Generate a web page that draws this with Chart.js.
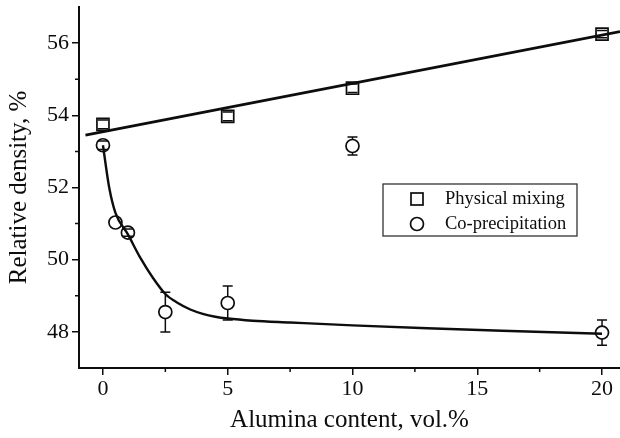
<!DOCTYPE html>
<html lang="en">
<head>
    <meta charset="UTF-8">
    <title>Relative density vs alumina content</title>
    <script src="https://cdn.jsdelivr.net/npm/chart.js"></script>
    <style>
        html, body {
            margin: 0;
            padding: 0;
            background: #fff;
            overflow: hidden;
        }
        canvas {
            display: block;
        }
    </style>
</head>
<body>
    <canvas id="densityChart" width="620" height="438"></canvas>

    <script>
        // measured points
        const mixX = [0, 5, 10, 20];
        const mixY = [53.75, 53.97, 54.75, 56.25];
        const mixErr = [0.12, 0.12, 0.12, 0.1];

        const coX = [0, 0.5, 1, 2.5, 5, 10, 20];
        const coY = [53.17, 51.03, 50.75, 48.55, 48.8, 53.15, 47.98];
        const coErr = [0.12, 0, 0.1, 0.55, 0.47, 0.25, 0.35];

        // fitted curves
        const mixFitX = [-0.7, 20.72];
        const mixFitY = [53.45, 56.32];
        const coFitX = [0, 0.25, 0.5, 1, 1.5, 2, 2.5, 3, 3.5, 4, 4.5, 5, 6, 7.5, 10, 13, 16, 20];
        const coFitY = [53.17, 52.0, 51.3, 50.7, 50.05, 49.5, 49.05, 48.8, 48.62, 48.5, 48.42, 48.37, 48.31, 48.26, 48.18, 48.1, 48.03, 47.95];

        const xMajor = [0, 5, 10, 15, 20];
        const xMinor = [2.5, 7.5, 12.5, 17.5];
        const yMajor = [48, 50, 52, 54, 56];
        const yMinor = [49, 51, 53, 55];

        const legendLabels = ['Physical mixing', 'Co-precipitation'];

        const ink = '#0d0d0d';
        const serif = "'Liberation Serif', 'DejaVu Serif', serif";

        function pts(xs, ys) {
            return xs.map((x, i) => ({x: x, y: ys[i]}));
        }

        // error bars, minor ticks and the boxed legend
        const extras = {
            id: 'extras',
            afterDatasetsDraw(chart) {
                const ctx = chart.ctx;
                const xs = chart.scales.x, ys = chart.scales.y;
                ctx.save();
                ctx.strokeStyle = ink;
                ctx.lineWidth = 1.5;
                chart.data.datasets.forEach(ds => {
                    if (!ds.errors) return;
                    const r = ds.pointRadius;
                    ds.data.forEach((p, i) => {
                        const e = ds.errors[i];
                        if (!e) return;
                        const px = xs.getPixelForValue(p.x);
                        const py = ys.getPixelForValue(p.y);
                        const top = ys.getPixelForValue(p.y + e);
                        const bot = ys.getPixelForValue(p.y - e);
                        ctx.beginPath();
                        if (py - top > r) {
                            ctx.moveTo(px, py - r); ctx.lineTo(px, top);
                            ctx.moveTo(px, bot); ctx.lineTo(px, py + r);
                        }
                        ctx.moveTo(px - 5, top); ctx.lineTo(px + 5, top);
                        ctx.moveTo(px - 5, bot); ctx.lineTo(px + 5, bot);
                        ctx.stroke();
                    });
                });

                // minor ticks
                ctx.lineWidth = 1.5;
                ctx.beginPath();
                xMinor.forEach(v => {
                    const px = xs.getPixelForValue(v);
                    ctx.moveTo(px, xs.top); ctx.lineTo(px, xs.top + 4);
                });
                yMinor.forEach(v => {
                    const py = ys.getPixelForValue(v);
                    ctx.moveTo(ys.right, py); ctx.lineTo(ys.right - 4, py);
                });
                ctx.stroke();

                // legend
                const lx = 383, ly = 184, lw = 194, lh = 52;
                ctx.lineWidth = 1.3;
                ctx.strokeStyle = '#333';
                ctx.strokeRect(lx, ly, lw, lh);
                ctx.strokeStyle = ink;
                ctx.lineWidth = 1.7;
                ctx.strokeRect(417 - 6, 199 - 6, 12, 12);
                ctx.beginPath();
                ctx.arc(417, 224, 6.5, 0, Math.PI * 2);
                ctx.stroke();
                ctx.fillStyle = ink;
                ctx.font = '18.5px ' + serif;
                ctx.textBaseline = 'middle';
                ctx.fillText(legendLabels[0], 445, 199);
                ctx.fillText(legendLabels[1], 445, 224);
                ctx.restore();
            }
        };

        const ctx = document.getElementById('densityChart').getContext('2d');
        new Chart(ctx, {
            type: 'scatter',
            data: {
                datasets: [
                    {
                        label: legendLabels[0],
                        data: pts(mixX, mixY),
                        errors: mixErr,
                        pointStyle: 'rect',
                        pointRadius: 8.5,
                        pointBorderWidth: 1.7,
                        borderColor: ink,
                        backgroundColor: 'rgba(0,0,0,0)'
                    },
                    {
                        label: legendLabels[1],
                        data: pts(coX, coY),
                        errors: coErr,
                        pointStyle: 'circle',
                        pointRadius: 6.5,
                        pointBorderWidth: 1.7,
                        borderColor: ink,
                        backgroundColor: 'rgba(0,0,0,0)'
                    },
                    {
                        label: 'mix fit',
                        data: pts(mixFitX, mixFitY),
                        showLine: true,
                        pointRadius: 0,
                        borderWidth: 2.8,
                        borderColor: ink
                    },
                    {
                        label: 'co fit',
                        data: pts(coFitX, coFitY),
                        showLine: true,
                        pointRadius: 0,
                        borderWidth: 2.4,
                        borderColor: ink,
                        cubicInterpolationMode: 'monotone'
                    }
                ]
            },
            options: {
                responsive: false,
                animation: false,
                layout: {
                    autoPadding: false,
                    padding: {top: 7, right: 0, bottom: 0, left: 0}
                },
                plugins: {
                    legend: {display: false},
                    tooltip: {enabled: false}
                },
                scales: {
                    x: {
                        type: 'linear',
                        min: -0.96,
                        max: 20.72,
                        afterBuildTicks: s => { s.ticks = xMajor.map(v => ({value: v})); },
                        afterFit: s => { s.height = 70; s.paddingRight = 0; },
                        border: {display: true, color: ink, width: 2},
                        grid: {drawOnChartArea: false, tickLength: 7, color: ink, lineWidth: 1.5},
                        ticks: {
                            color: ink,
                            padding: 1,
                            maxRotation: 0,
                            font: {family: serif, size: 22}
                        },
                        title: {
                            display: true,
                            text: 'Alumina content, vol.%',
                            color: ink,
                            padding: {top: 0, bottom: 3},
                            font: {family: serif, size: 25}
                        }
                    },
                    y: {
                        type: 'linear',
                        min: 47,
                        max: 57,
                        afterBuildTicks: s => { s.ticks = yMajor.map(v => ({value: v})); },
                        afterFit: s => { s.width = 79; s.paddingTop = 0; },
                        border: {display: true, color: ink, width: 2},
                        grid: {drawOnChartArea: false, tickLength: 7, color: ink, lineWidth: 1.5},
                        ticks: {
                            color: ink,
                            padding: 3,
                            font: {family: serif, size: 22}
                        },
                        title: {
                            display: true,
                            text: 'Relative density, %',
                            color: ink,
                            padding: {top: 4, bottom: 0},
                            font: {family: serif, size: 25}
                        }
                    }
                }
            },
            plugins: [extras]
        });
    </script>
</body>
</html>
